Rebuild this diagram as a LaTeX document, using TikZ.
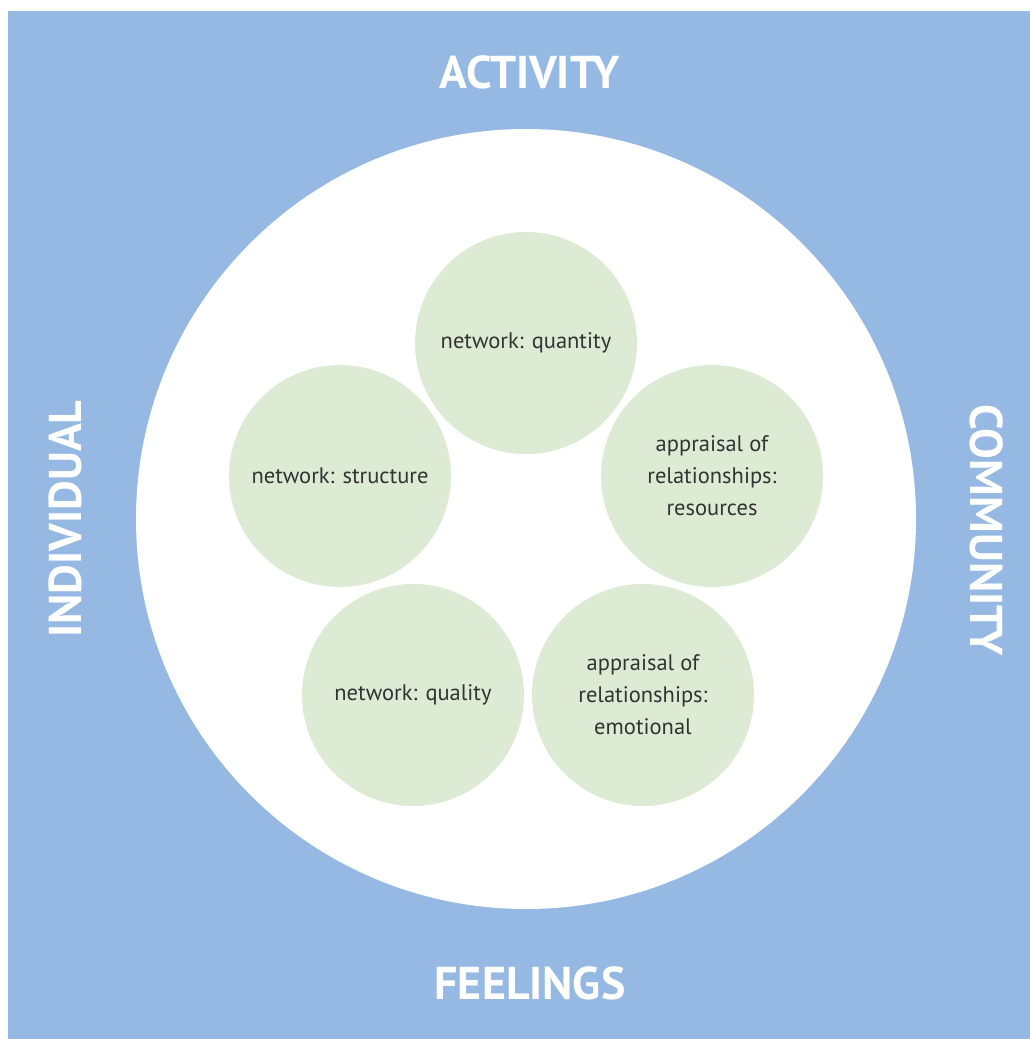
\documentclass[tikz,border=0pt]{standalone}
\usepackage{fontspec}
\setmainfont{PT Sans}
\definecolor{bgblue}{HTML}{95B9E3}
\definecolor{ltgreen}{HTML}{DDEBD5}
\definecolor{txt}{HTML}{333333}
\begin{document}
\begin{tikzpicture}[x=1pt,y=-1pt,
  bubble/.style={circle,fill=ltgreen,minimum size=222pt,inner sep=0pt,text=txt,font=\fontsize{22.5}{32}\selectfont,align=center},
  side/.style={text=white,font=\fontsize{46}{46}\selectfont\bfseries}]
\useasboundingbox (0,0) rectangle (1030,1039);
\fill[bgblue] (8,11) rectangle (1030,1039);
\fill[white] (526,519) circle (390);
\node[bubble] (quantity) at (526,343) {\raisebox{-3pt}{network: quantity}};
\node[bubble] (structure) at (340,476) {\raisebox{-2pt}{network: structure}};
\node[bubble] (resources) at (712,476) {appraisal of\\relationships:\\resources};
\node[bubble] (quality) at (413,695) {\raisebox{-2pt}{network: quality}};
\node[bubble] (emotional) at (643,695) {appraisal of\\relationships:\\emotional};
\node[side] (activity) at (530,72) {ACTIVITY};
\node[side] (feelings) at (530,983) {FEELINGS};
\node[side,rotate=90] (individual) at (65,519) {INDIVIDUAL};
\node[side,rotate=-90] (community) at (987,530) {COMMUNITY};
\end{tikzpicture}
\end{document}
